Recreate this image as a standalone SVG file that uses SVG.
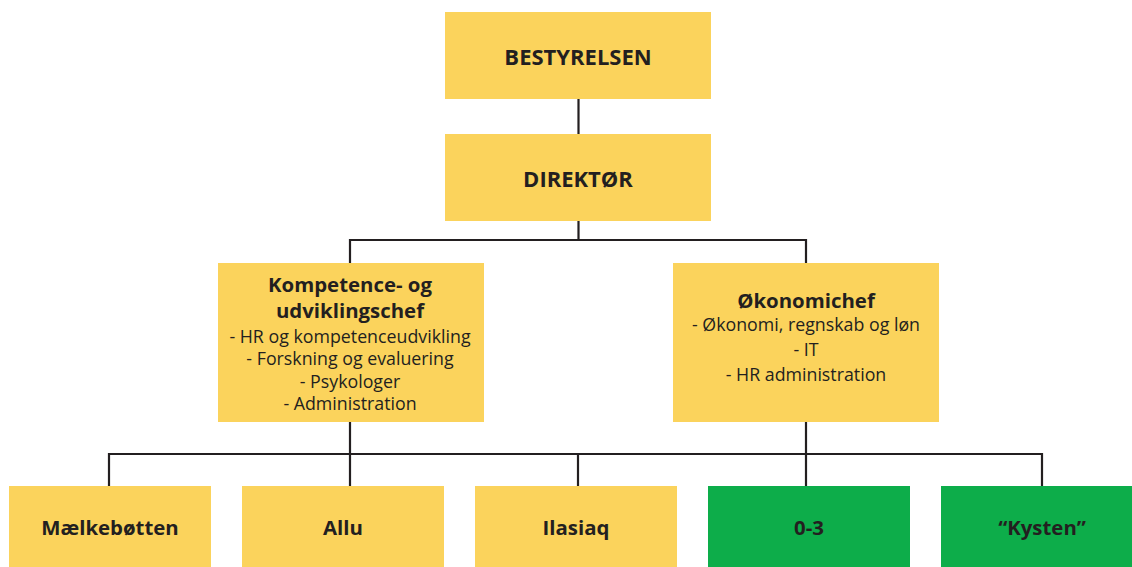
<svg xmlns="http://www.w3.org/2000/svg" width="1132" height="567" viewBox="0 0 1132 567">
<style>
.y{fill:#FBD35C}
.g{fill:#0DAD4A}
.t{font-family:"Open Sans","Liberation Sans",sans-serif;fill:#231F20;text-anchor:middle}
.b{font-weight:bold;font-size:22px}
.h{font-weight:bold;font-size:20.4px}
.r{font-size:17.8px}
.c{fill:none;stroke:#231F20;stroke-width:2.2}
</style>
<rect width="1132" height="567" fill="#fff"/>
<g id="connectors" class="c">
<path d="M578.5 99V134M578.5 221V240M350 240H806M350 239V263M806 239V263"/>
<path d="M350 422V454M806 422V454M109 454H1042M109 453V486M350 453V486M578 453V486M806 453V486M1042 453V486"/>
</g>
<g id="bestyrelsen"><rect class="y" x="445" y="12" width="266" height="87"/><text class="t b" x="578" y="65">BESTYRELSEN</text></g>
<g id="direktor"><rect class="y" x="445" y="134" width="266" height="87"/><text class="t b" x="578" y="187">DIREKTØR</text></g>
<g id="kompetence"><rect class="y" x="218" y="263" width="266" height="159"/>
<text class="t h" x="350" y="292">Kompetence- og</text>
<text class="t h" x="350" y="318">udviklingschef</text>
<text class="t r" x="350" y="343">- HR og kompetenceudvikling</text>
<text class="t r" x="350" y="365">- Forskning og evaluering</text>
<text class="t r" x="350" y="388">- Psykologer</text>
<text class="t r" x="350" y="410">- Administration</text>
</g>
<g id="okonomichef"><rect class="y" x="673" y="263" width="266" height="159"/>
<text class="t h" x="806" y="308">Økonomichef</text>
<text class="t r" x="806" y="331">- Økonomi, regnskab og løn</text>
<text class="t r" x="806" y="356">- IT</text>
<text class="t r" x="806" y="381">- HR administration</text>
</g>
<g id="maelkebotten"><rect class="y" x="9" y="486" width="202" height="81"/><text class="t h" x="110" y="535">Mælkebøtten</text></g>
<g id="allu"><rect class="y" x="242" y="486" width="202" height="81"/><text class="t h" x="343" y="535">Allu</text></g>
<g id="ilasiaq"><rect class="y" x="475" y="486" width="202" height="81"/><text class="t h" x="576" y="535">Ilasiaq</text></g>
<g id="n03"><rect class="g" x="708" y="486" width="202" height="81"/><text class="t h" x="809" y="535">0-3</text></g>
<g id="kysten"><rect class="g" x="941" y="486" width="202" height="81"/><text class="t h" x="1042" y="535">“Kysten”</text></g>
</svg>
